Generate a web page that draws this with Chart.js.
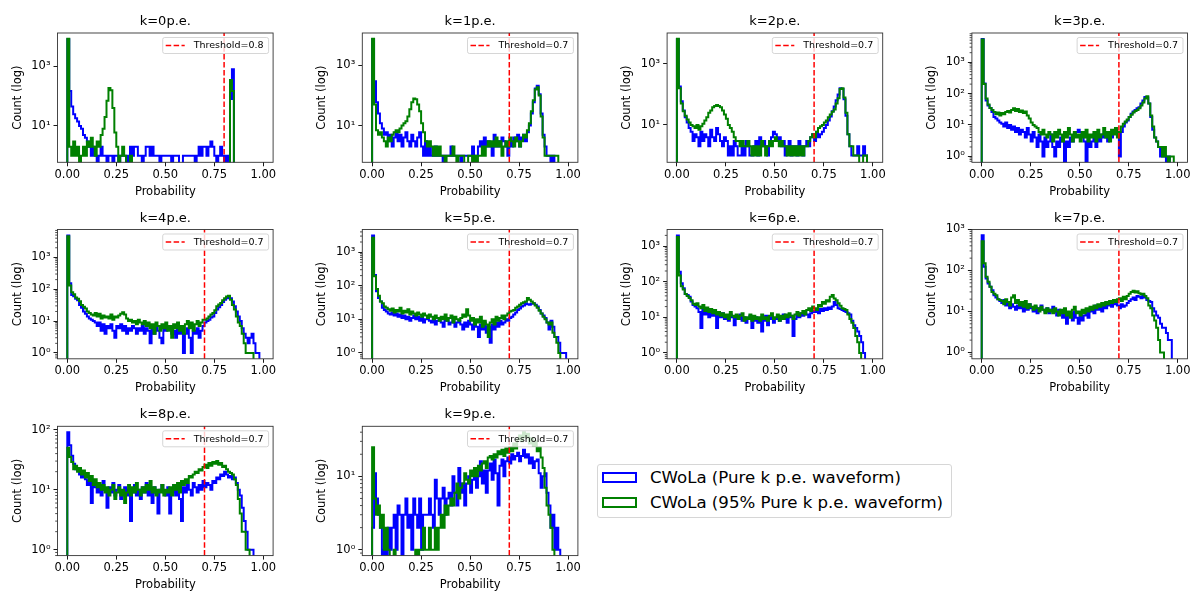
<!DOCTYPE html>
<html>
<head>
<meta charset="utf-8">
<script src="https://cdn.jsdelivr.net/npm/chart.js@4.4.0/dist/chart.umd.min.js"></script>
<style>
  html, body { margin: 0; padding: 0; background: #fff; }
  body { position: relative; width: 1191px; height: 592px; overflow: hidden; font-family: "DejaVu Sans", sans-serif; }
  canvas.panel { position: absolute; }
  #figLegend {
    position: absolute; left: 596.7px; top: 464.3px; width: 355.6px; height: 54px;
    box-sizing: border-box; border: 1px solid #d6d6d6; border-radius: 3px; background: rgba(255,255,255,0.8);
  }
  #figLegend .swatch { position: absolute; left: 4.3px; width: 35.3px; height: 11px; box-sizing: border-box; border: 2px solid; background: #fff; }
  #figLegend .label { position: absolute; left: 52.3px; font-size: 16.6px; line-height: 20px; color: #000; white-space: nowrap; }
</style>
</head>
<body>
<div id="figLegend"></div>
<script>
// Classifier output histograms, 100 bins on [0, 1], one pair per photo-electron count k
const NBINS = 100;
const kValues = [0, 1, 2, 3, 4, 5, 6, 7, 8, 9];
const thresholds = [0.8, 0.7, 0.7, 0.7, 0.7, 0.7, 0.7, 0.7, 0.7, 0.7];
const xTickValues = [0, 0.25, 0.5, 0.75, 1.0];
const seriesLabels = ['CWoLa (Pure k p.e. waveform)', 'CWoLa (95% Pure k p.e. waveform)'];

const pure_k0 = [8200,150,45,25,18,14,10,8,5,4,
  3,2,1,2,1,0,1,2,1,1,
  0,1,1,0,1,1,0,1,1,1,
  0,1,2,1,2,2,1,1,0,1,
  2,2,1,2,1,1,1,0,1,1,
  1,1,1,0,1,1,1,0,0,1,
  1,1,1,1,1,0,1,2,1,2,
  2,1,2,3,2,1,0,1,2,1,
  0,1,0,80,800,0,0,0,0,0,
  0,0,0,0,0,0,0,0,0,0];
const mixed_k0 = [8500,2,1,3,1,2,0,1,2,1,
  3,2,4,2,1,3,2,5,8,20,
  70,190,160,40,6,2,0,1,2,1,
  0,0,1,0,0,0,0,0,0,0,
  0,0,0,0,0,0,0,0,0,0,
  0,0,0,0,0,0,0,0,0,0,
  0,0,0,0,0,0,0,0,0,0,
  0,0,0,0,0,0,0,0,0,0,
  0,0,0,350,150,0,0,0,0,0,
  0,0,0,0,0,0,0,0,0,0];

const pure_k1 = [7500,300,60,25,12,8,5,6,3,5,
  2,4,6,3,5,2,4,6,3,2,
  5,3,2,4,6,2,1,3,1,2,
  1,1,2,1,1,1,0,1,1,1,
  2,1,1,1,1,0,1,1,1,1,
  1,2,1,1,2,3,2,4,2,3,
  2,1,5,2,3,2,4,3,2,1,
  3,2,4,3,5,2,4,5,3,6,
  10,25,60,170,210,110,25,5,2,1,
  1,0,1,0,0,0,0,0,0,0];
const mixed_k1 = [7700,50,7,5,6,4,3,2,4,3,
  5,6,7,6,8,10,12,14,20,35,
  60,80,75,50,30,12,6,3,2,3,
  2,1,2,1,2,1,1,0,1,1,
  1,2,1,0,1,1,1,0,0,1,
  1,0,1,0,1,1,2,1,2,3,
  2,3,2,4,2,3,1,2,3,2,
  4,3,2,4,3,2,3,5,4,7,
  12,30,70,160,190,100,20,4,1,1,
  1,1,1,1,1,0,0,0,0,0];

const pure_k2 = [6400,180,60,30,18,12,8,6,3,5,
  4,2,6,3,5,4,2,7,4,3,
  8,5,3,2,4,3,1,2,1,3,
  2,1,1,2,1,3,2,1,1,2,
  3,1,4,2,3,2,1,3,4,6,
  5,3,4,2,3,1,2,3,1,2,
  2,1,3,2,1,2,3,2,4,5,
  3,6,4,5,6,8,10,14,19,28,
  40,65,100,160,150,70,20,5,2,1,
  1,1,2,1,1,2,1,0,0,0];
const mixed_k2 = [6600,160,50,28,20,15,12,10,9,8,
  10,7,9,11,14,18,25,30,38,42,
  45,42,38,30,22,16,10,8,6,4,
  3,3,2,3,2,2,3,2,1,2,
  1,2,1,3,2,1,2,3,2,3,
  4,3,2,3,2,2,1,2,1,2,
  1,2,1,2,1,2,2,3,4,5,
  4,6,8,9,10,12,14,18,22,27,
  32,50,75,150,160,80,25,5,2,2,
  1,1,1,0,0,1,1,0,0,0];

const pure_k3 = [5500,210,60,42,35,26,18,16,14,12,
  11,9,12,8,10,7,9,6,8,5,
  7,6,4,8,5,3,6,4,2,5,
  3,1,4,2,3,5,2,1,3,2,
  4,3,0,3,2,4,3,5,6,7,
  6,5,3,0,4,2,3,5,2,4,
  3,5,4,6,3,5,4,6,7,5,
  1,6,9,12,14,18,23,27,30,34,
  37,48,60,78,75,48,18,7,4,3,
  2,1,2,1,0,1,0,0,0,0];
const mixed_k3 = [5300,200,70,45,35,30,26,22,25,20,
  24,22,26,28,25,30,34,28,32,26,
  29,24,27,20,16,12,10,9,8,6,
  5,7,5,4,6,5,3,6,4,7,
  5,3,6,4,8,5,3,6,4,5,
  3,6,4,7,3,5,4,6,3,7,
  4,5,8,4,6,3,7,5,8,4,
  6,9,11,13,15,18,21,25,28,30,
  34,42,52,70,82,48,20,9,4,3,
  2,2,1,2,1,0,1,1,0,0];

const pure_k4 = [4900,155,66,60,50,45,32,26,20,17,
  14,12,11,10,9,7,9,5,8,4,
  7,6,8,5,3,7,6,8,5,7,
  4,6,5,7,6,4,6,5,7,4,
  6,5,2,6,4,7,5,3,2,6,
  5,7,6,4,5,3,6,4,5,1,
  4,6,3,1,5,4,6,3,5,7,
  9,10,11,13,14,18,23,27,32,40,
  47,52,58,52,41,29,20,14,10,6,
  4,3,2,3,4,2,1,1,0,0];
const mixed_k4 = [4600,130,80,70,55,50,42,32,28,25,
  20,18,16,15,18,14,17,12,15,13,
  14,12,16,11,14,13,15,17,19,16,
  12,10,11,9,10,8,11,9,8,10,
  7,9,6,8,4,9,7,5,8,6,
  9,5,7,3,8,6,9,5,7,4,
  8,10,6,9,5,8,10,7,9,11,
  11,12,14,16,18,22,29,33,37,45,
  52,59,62,47,32,23,14,9,7,4,
  2,1,1,1,1,0,0,0,0,0];

const pure_k5 = [3150,210,68,43,34,22,19,17,15,14,
  16,13,15,12,14,11,13,10,12,9,
  11,13,10,12,9,11,8,10,12,9,
  8,11,7,9,10,8,6,9,11,7,
  8,10,6,8,9,7,5,8,6,9,
  7,5,8,6,3,7,5,8,4,6,
  2,7,5,8,6,9,7,8,10,9,
  11,12,14,16,19,21,24,26,30,28,
  27,29,30,27,24,19,15,13,11,8,
  5,9,6,3,3,2,1,1,1,0];
const mixed_k5 = [2700,190,80,50,34,30,24,22,20,18,
  21,16,19,17,22,15,18,16,20,14,
  17,15,13,16,14,12,15,13,11,14,
  12,10,13,11,9,12,10,14,9,11,
  13,8,12,10,9,11,14,12,20,13,
  9,11,7,10,8,12,6,9,7,3,
  8,10,7,12,9,11,13,10,13,15,
  17,18,19,22,24,27,30,32,34,43,
  38,34,30,26,22,18,15,12,10,8,
  7,8,4,3,2,1,0,0,0,0];

const pure_k6 = [2000,190,90,65,45,42,38,28,22,20,
  18,14,5,16,12,15,10,13,11,14,
  5,12,10,13,9,11,8,12,10,6,
  11,9,12,8,10,7,9,11,5,8,
  10,7,9,4,8,11,6,9,10,7,
  9,11,8,10,12,9,7,10,11,3,
  9,12,10,13,11,14,12,10,13,15,
  14,16,13,17,15,18,16,19,17,20,
  27,22,18,17,16,15,14,13,12,8,
  6,5,4,3,2,1,0,0,0,0];
const mixed_k6 = [1800,150,75,60,45,40,35,30,24,22,
  25,20,18,22,15,19,14,17,13,16,
  12,14,11,13,10,12,9,14,11,10,
  12,9,11,13,8,10,9,12,8,11,
  9,10,8,12,9,10,8,11,13,9,
  10,12,8,11,9,12,10,13,11,9,
  12,14,11,13,15,12,16,18,15,20,
  18,16,22,20,27,24,30,28,38,42,
  34,30,25,21,18,17,16,12,9,7,
  5,3,2,1,0,0,0,0,0,0];

const pure_k7 = [720,123,64,48,40,33,25,22,20,18,
  16,19,14,16,12,15,13,11,14,12,
  16,10,13,11,15,12,10,13,9,12,
  14,11,10,12,9,11,13,10,8,11,
  9,7,10,5,8,9,6,10,7,5,
  9,6,8,11,7,10,12,9,14,11,
  13,10,15,12,14,16,13,15,17,14,
  12,15,13,14,16,18,20,22,19,24,
  23,21,25,22,19,18,17,12,10,8,
  7,5,4,4,3,2,2,0,0,0];
const mixed_k7 = [520,150,70,53,40,30,27,25,20,19,
  18,15,20,17,14,22,25,16,19,14,
  17,13,18,12,15,13,11,14,12,10,
  13,11,9,12,10,11,9,12,10,8,
  11,9,12,8,10,7,11,13,9,10,
  8,11,9,12,10,13,11,14,12,15,
  13,16,14,17,15,18,16,19,17,20,
  21,18,23,20,24,27,30,32,29,31,
  28,26,27,24,21,14,12,8,6,4,
  2,1,1,0,0,0,0,0,0,0];

const pure_k8 = [91,55,37,27,22,21,18,16,19,15,
  12,14,6,13,11,9,12,8,14,10,
  5,11,9,13,8,10,12,7,9,11,
  8,10,3,9,12,8,10,7,11,9,
  13,8,10,6,11,9,4,10,12,9,
  8,11,4,9,12,8,10,7,3,11,
  9,12,10,8,13,11,9,12,10,14,
  11,13,12,10,14,13,16,15,18,17,
  20,18,16,17,15,16,13,10,8,5,
  3,2,1,1,1,0,0,0,0,0];
const mixed_k8 = [50,35,29,22,25,20,23,18,21,16,
  19,14,17,12,15,11,13,10,12,9,
  11,8,10,12,7,9,11,8,10,6,
  9,12,8,11,9,13,10,8,11,9,
  12,10,14,9,11,8,10,9,12,8,
  10,9,11,8,12,10,13,9,14,12,
  15,13,17,16,18,20,19,22,21,24,
  26,23,28,25,29,27,30,26,28,24,
  25,22,20,19,18,15,12,7,4,2,
  2,1,1,0,0,0,0,0,0,0];

const pure_k9 = [2,11,5,3,2,0,1,0,2,1,
  2,3,1,4,3,0,3,5,2,3,
  1,5,3,2,5,1,3,3,3,5,
  3,2,9,5,3,5,7,3,5,6,
  4,10,6,4,13,6,8,4,8,10,
  6,9,11,7,10,16,8,12,6,12,
  15,9,17,11,4,14,17,10,16,18,
  15,20,17,19,21,16,19,23,18,20,
  15,18,13,16,17,11,7,10,11,6,
  4,2,3,1,2,1,0,0,0,0];
const mixed_k9 = [25,5,3,4,2,3,1,2,1,0,
  0,1,0,0,0,0,0,0,0,0,
  0,0,1,0,1,1,2,1,1,2,
  1,1,2,1,2,3,2,4,3,4,
  5,4,6,8,5,7,8,11,9,8,
  12,10,13,10,14,12,15,16,13,18,
  19,17,20,18,22,20,23,19,24,21,
  25,22,28,24,32,36,30,40,34,38,
  28,33,26,30,22,25,18,13,7,4,
  3,2,1,0,0,0,0,0,0,0];

const pureCounts = [pure_k0, pure_k1, pure_k2, pure_k3, pure_k4, pure_k5, pure_k6, pure_k7, pure_k8, pure_k9];
const mixedCounts = [mixed_k0, mixed_k1, mixed_k2, mixed_k3, mixed_k4, mixed_k5, mixed_k6, mixed_k7, mixed_k8, mixed_k9];

// figure geometry (axes frames in page pixels)
const COL_LEFT = [57.5, 362.3, 667.1, 971.9];
const ROW_TOP = [33, 229.5, 426.3];
const FRAME_W = 215.6, FRAME_H = 129.3;
const CANVAS_W = 300, CANVAS_H = 200;
const BLUE = '#0000ff', GREEN = '#008000';
const EMPTY = 1e-3;   // empty bins fall below the visible log range

Chart.defaults.font.family = '"DejaVu Sans", sans-serif';
Chart.defaults.color = '#000';

const SUP = { '0': '\u2070', '1': '\u00b9', '2': '\u00b2', '3': '\u00b3', '4': '\u2074',
  '5': '\u2075', '6': '\u2076', '7': '\u2077', '8': '\u2078', '9': '\u2079', '-': '\u207b' };
const powerLabel = d => '10' + String(d).split('').map(c => SUP[c]).join('');

// step outline of a histogram: rise at each bin edge, flat across the bin
function stepPoints(counts) {
  const edge = i => i / NBINS;
  const pts = [{ x: edge(0), y: EMPTY }];
  counts.forEach((c, i) => {
    const v = c > 0 ? c : EMPTY;
    pts.push({ x: edge(i), y: v }, { x: edge(i + 1), y: v });
  });
  pts.push({ x: edge(counts.length), y: EMPTY });
  return pts;
}

// log ticks like matplotlib: every decade (with minor ticks) or every other one when crowded
function logTicks(lo, hi) {
  const step = (hi - lo) > 4.15 ? 2 : 1;
  const ticks = [], labels = [];
  const d0 = Math.floor(lo) - step;
  for (let d = d0; d <= Math.ceil(hi); d++) {
    for (let m = 1; m <= 9; m++) {
      const major = m === 1 && (d - d0) % step === 0;
      if (!major && step > 1) continue;
      const v = m * Math.pow(10, d);
      const lv = Math.log10(v);
      if (lv < lo - 1e-9 || lv > hi + 1e-9) continue;
      ticks.push({ value: v, major });
      labels.push(major ? powerLabel(d) : '');
    }
  }
  return { ticks, labels };
}

const panelDecor = {
  id: 'panelDecor',
  afterDatasetsDraw(chart, args, opts) {
    const { ctx, chartArea: a, scales: { x, y } } = chart;

    // threshold cut
    ctx.save();
    ctx.beginPath();
    ctx.rect(a.left, a.top, a.right - a.left, a.bottom - a.top);
    ctx.clip();
    const tx = x.getPixelForValue(opts.threshold);
    ctx.strokeStyle = '#ff0000';
    ctx.lineWidth = 1.5;
    ctx.setLineDash([5.5, 2.4]);
    ctx.beginPath();
    ctx.moveTo(tx, a.bottom);
    ctx.lineTo(tx, a.top);
    ctx.stroke();
    ctx.restore();

    // legend for the cut
    ctx.save();
    ctx.font = '9.5px "DejaVu Sans"';
    const text = 'Threshold=' + opts.threshold;
    const tw = ctx.measureText(text).width;
    const bw = tw + 36, bh = 16;
    const bx = a.right - 4.5 - bw, by = a.top + 4.5;
    ctx.fillStyle = 'rgba(255,255,255,0.8)';
    ctx.strokeStyle = 'rgba(204,204,204,0.8)';
    ctx.lineWidth = 1;
    ctx.beginPath();
    ctx.roundRect(bx, by, bw, bh, 2);
    ctx.fill();
    ctx.stroke();
    const cy = by + bh / 2;
    ctx.strokeStyle = '#ff0000';
    ctx.lineWidth = 1.5;
    ctx.setLineDash([5.5, 2.4]);
    ctx.beginPath();
    ctx.moveTo(bx + 3, cy);
    ctx.lineTo(bx + 22, cy);
    ctx.stroke();
    ctx.setLineDash([]);
    ctx.fillStyle = '#000';
    ctx.textAlign = 'left';
    ctx.textBaseline = 'middle';
    ctx.fillText(text, bx + 31, cy + 0.5);
    ctx.restore();

    // minor y ticks and the axes frame
    ctx.save();
    ctx.strokeStyle = '#000';
    ctx.lineWidth = 0.7;
    y.ticks.forEach(t => {
      if (t.major) return;
      const py = y.getPixelForValue(t.value);
      ctx.beginPath();
      ctx.moveTo(a.left - 2.3, py);
      ctx.lineTo(a.left, py);
      ctx.stroke();
    });
    ctx.strokeStyle = '#333';
    ctx.lineWidth = 0.9;
    ctx.strokeRect(a.left, a.top, a.right - a.left, a.bottom - a.top);
    ctx.restore();
  }
};

kValues.forEach((k, i) => {
  const col = i % 4, row = Math.floor(i / 4);
  const canvasLeft = Math.floor(COL_LEFT[col] - 57.5);
  const canvasTop = Math.floor(ROW_TOP[row] - 33);
  const innerLeft = COL_LEFT[col] - canvasLeft;
  const innerTop = ROW_TOP[row] - canvasTop;
  const innerBottom = innerTop + FRAME_H;

  const canvas = document.createElement('canvas');
  canvas.className = 'panel';
  canvas.width = CANVAS_W;
  canvas.height = CANVAS_H;
  canvas.style.left = canvasLeft + 'px';
  canvas.style.top = canvasTop + 'px';
  canvas.style.width = CANVAS_W + 'px';
  canvas.style.height = CANVAS_H + 'px';
  document.body.appendChild(canvas);

  const peak = Math.max(...pureCounts[i], ...mixedCounts[i]);
  const span = Math.log10(peak);
  const lo = -0.05 * span, hi = 1.05 * span;
  const yt = logTicks(lo, hi);

  const titleLH = 13 * 1.2, labelLH = 11.5 * 1.2;
  const titlePadTop = innerTop - 11.2 - titleLH / 2;

  new Chart(canvas, {
    type: 'line',
    data: {
      datasets: [
        { label: seriesLabels[0], data: stepPoints(pureCounts[i]), borderColor: BLUE, borderWidth: 2, order: 1, clip: 0 },
        { label: seriesLabels[1], data: stepPoints(mixedCounts[i]), borderColor: GREEN, borderWidth: 2, order: 0, clip: 0 }
      ]
    },
    options: {
      responsive: false,
      animation: false,
      events: [],
      layout: { padding: { left: 0, top: 0, bottom: 0, right: CANVAS_W - innerLeft - FRAME_W } },
      elements: { point: { radius: 0 }, line: { tension: 0, fill: false } },
      plugins: {
        legend: { display: false },
        tooltip: { enabled: false },
        title: {
          display: true,
          fullSize: false,
          text: 'k=' + k + 'p.e.',
          color: '#000',
          font: { size: 13, weight: 'normal' },
          padding: { top: titlePadTop, bottom: innerTop - titlePadTop - titleLH }
        },
        panelDecor: { threshold: thresholds[i] }
      },
      scales: {
        x: {
          type: 'linear',
          min: -0.05,
          max: 1.05,
          afterBuildTicks: s => { s.ticks = xTickValues.map(v => ({ value: v })); },
          afterFit: s => { s.height = CANVAS_H - innerBottom; },
          ticks: {
            autoSkip: false, maxRotation: 0, padding: 1.8, color: '#000',
            font: { size: 11.5 },
            callback: v => Number(v).toFixed(2)
          },
          grid: { drawOnChartArea: false, tickLength: 4, tickWidth: 0.9, tickColor: '#000' },
          border: { display: false },
          title: {
            display: true, text: 'Probability', color: '#000', font: { size: 11.5 },
            padding: { top: 0, bottom: CANVAS_H - (innerBottom + 29.4) - labelLH / 2 }
          }
        },
        y: {
          type: 'logarithmic',
          min: Math.pow(10, lo),
          max: Math.pow(10, hi),
          afterBuildTicks: s => { s.ticks = yt.ticks.map(t => ({ value: t.value, major: t.major })); },
          afterFit: s => { s.width = innerLeft; },
          ticks: {
            autoSkip: false, padding: 3, color: '#000',
            font: { size: 11.5 },
            callback: (v, idx) => yt.labels[idx]
          },
          grid: {
            drawOnChartArea: false, tickLength: 4, tickWidth: 0.9,
            tickColor: c => (c.tick && c.tick.major) ? '#000' : 'rgba(0,0,0,0)'
          },
          border: { display: false },
          title: {
            display: true, text: 'Count (log)', color: '#000', font: { size: 11.5 },
            padding: { top: innerLeft - 39.8 - labelLH / 2, bottom: 0 }
          }
        }
      }
    },
    plugins: [panelDecor]
  });
});

// shared legend for the two classifier variants
const legendBox = document.getElementById('figLegend');
[BLUE, GREEN].forEach((color, j) => {
  const sw = document.createElement('div');
  sw.className = 'swatch';
  sw.style.borderColor = color;
  sw.style.top = (7 + 25 * j) + 'px';
  legendBox.appendChild(sw);
  const lab = document.createElement('div');
  lab.className = 'label';
  lab.style.top = (2.7 + 25 * j) + 'px';
  lab.textContent = seriesLabels[j];
  legendBox.appendChild(lab);
});
</script>
</body>
</html>
